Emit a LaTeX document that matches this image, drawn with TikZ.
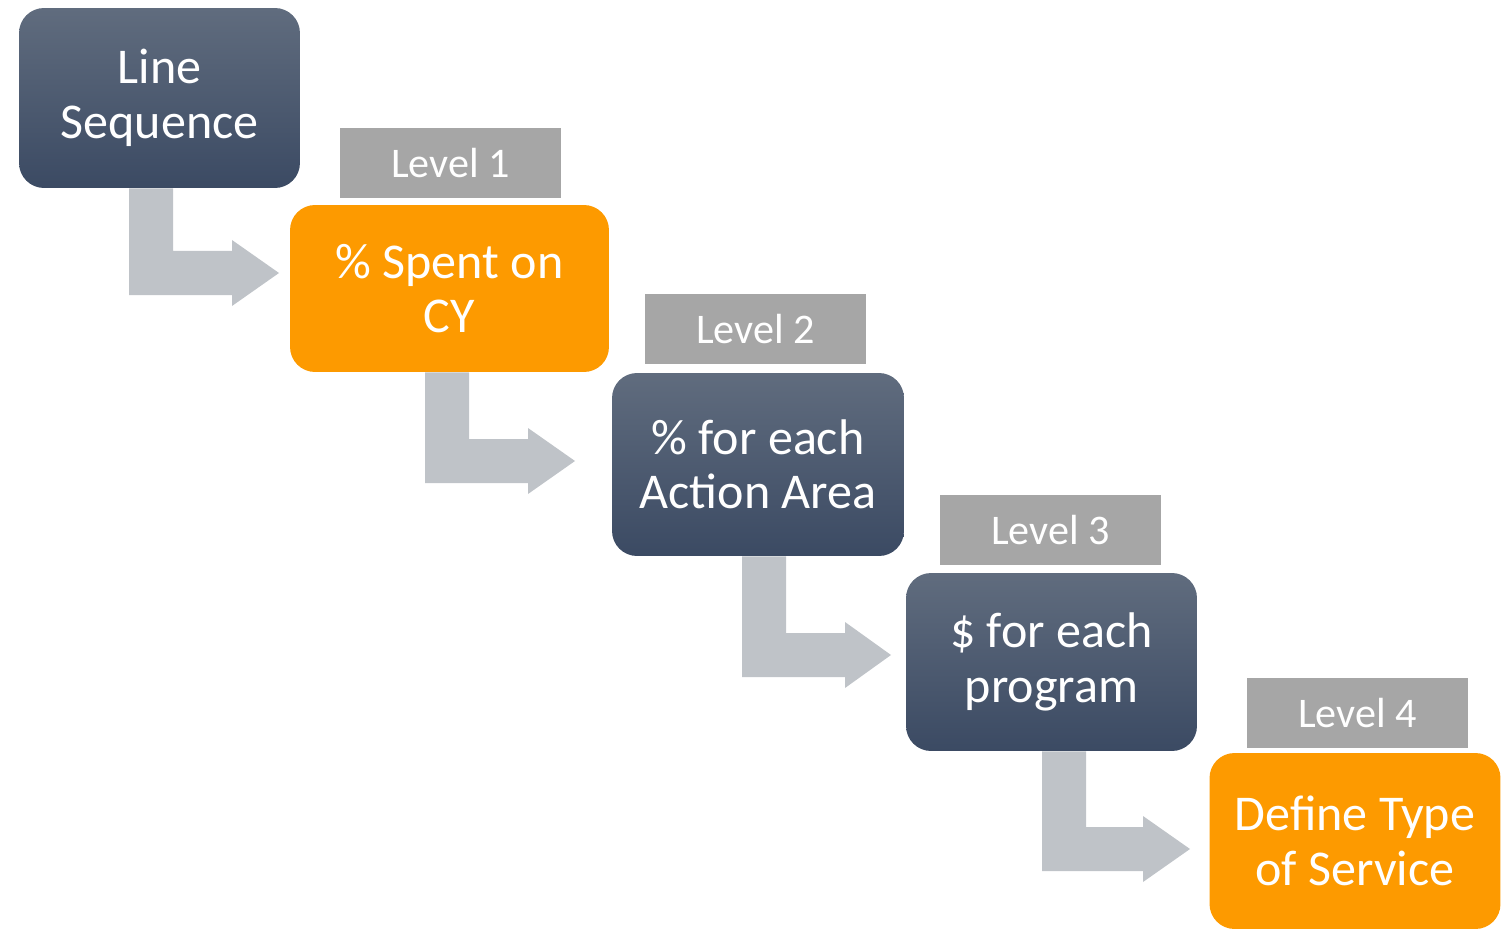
\documentclass[tikz,border=0pt]{standalone}
\usepackage{fontspec}
\setmainfont{Carlito}

% bent block arrow: from node, shaft x, bar top y, head x, tip x
\newcommand{\bentarrow}[5]{%
  \fill[arrowgray] (#1.south -| #2,0) -- ++(44,0) |- (#4,#3) -- ++(0,-11)
    -- (#5,{#3+22}) -- (#4,{#3+55}) -- (#4,{#3+44}) -| (#1.south -| #2,0) -- cycle;}

\begin{document}
\begin{tikzpicture}[x=0.02cm, y=-0.02cm,
    box/.style={rounded corners=0.5cm, text=white, align=center,
      font=\fontsize{28.5}{31}\selectfont, inner sep=0pt},
    darkbox/.style={box, top color=slatetop, bottom color=slatebot},
    orangebox/.style={box, fill=boxorange},
    levelbox/.style={fill=levelgray, text=white, inner sep=0pt,
      minimum width=4.42cm, minimum height=1.4cm,
      font=\fontsize{24}{26}\selectfont}]
        % Define colors
        \definecolor{slatetop}{RGB}{96, 108, 126}
        \definecolor{slatebot}{RGB}{59, 74, 99}
        \definecolor{boxorange}{RGB}{253, 154, 0}
        \definecolor{levelgray}{RGB}{166, 166, 166}
        \definecolor{arrowgray}{RGB}{191, 195, 200}

        \useasboundingbox (0,0) rectangle (1511,929);

        % --- Boxes ---
        \node[darkbox, minimum width=5.62cm, minimum height=3.6cm] (b1) at (159.5,98) {Line\\Sequence};
        \node[orangebox, minimum width=6.38cm, minimum height=3.34cm] (b2) at (449.5,288.5) {\% Spent on\\CY};
        \node[darkbox, minimum width=5.84cm, minimum height=3.66cm] (b3) at (758,464.5) {\% for each\\Action Area};
        \node[darkbox, minimum width=5.82cm, minimum height=3.56cm] (b4) at (1051.5,662) {\$ for each\\program};
        \node[orangebox, minimum width=5.82cm, minimum height=3.52cm] (b5) at (1355,841) {Define Type\\of Service};

        % --- Levels ---
        \node[levelbox] (l1) at (450.5,163) {Level 1};
        \node[levelbox] (l2) at (755.5,329) {Level 2};
        \node[levelbox] (l3) at (1050.5,530) {Level 3};
        \node[levelbox] (l4) at (1357.5,713) {Level 4};

        % --- Arrows ---
        \bentarrow{b1}{129}{251}{232}{279}
        \bentarrow{b2}{425}{439}{528}{575}
        \bentarrow{b3}{742}{633}{845}{891}
        \bentarrow{b4}{1042}{827}{1143}{1190}
    \end{tikzpicture}
\end{document}
